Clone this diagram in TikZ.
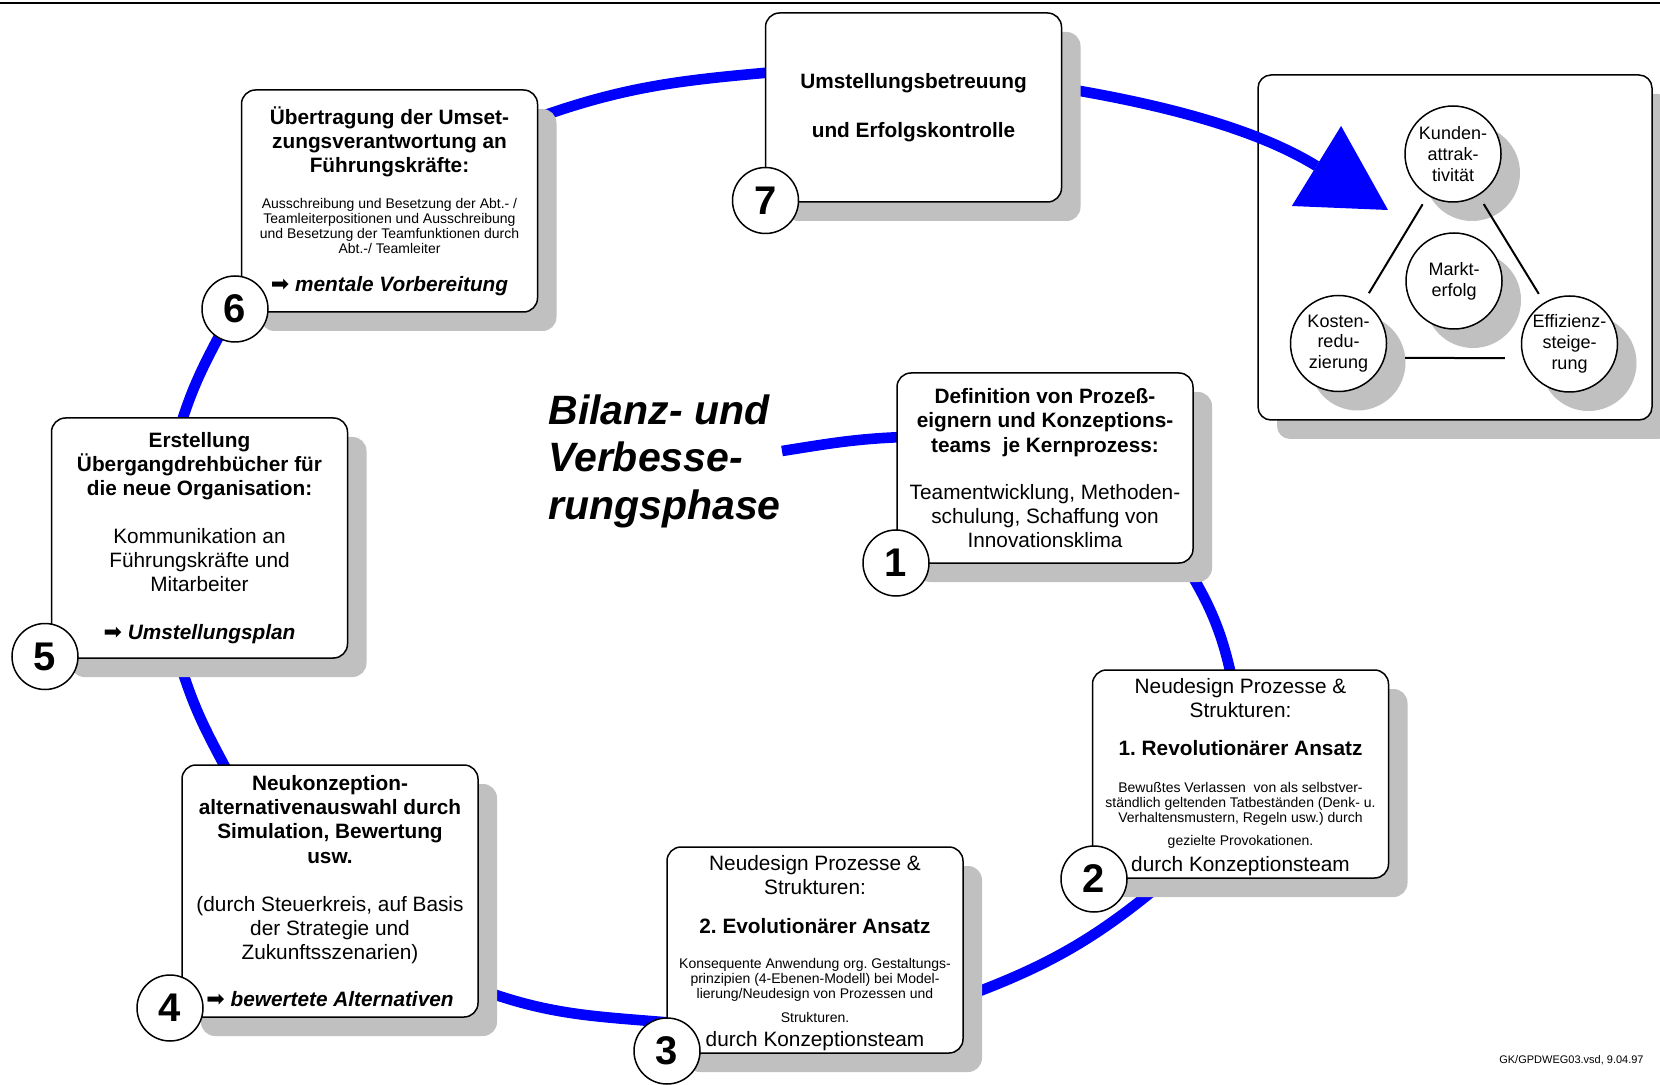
\documentclass[tikz,border=0pt]{standalone}
\usepackage{fontspec}
\setmainfont{Liberation Sans}
\newfontfamily\dejavu{DejaVu Sans}
\usetikzlibrary{calc,shadows,arrows.meta}
\definecolor{shadowgray}{RGB}{192,192,192}
\definecolor{spiralblue}{RGB}{0,0,255}
\newcommand\resetspaces{\spaceskip=0pt\xspaceskip=0pt\relax}
\newcommand\boxhead{\fontsize{10.4}{12.2}\selectfont\bfseries\resetspaces}
\newcommand\boxnorm{\fontsize{10.4}{12}\selectfont\resetspaces}
\newcommand\boxsmall{\fontsize{7}{7.5}\selectfont\resetspaces}
\newcommand\arrowsym{{\dejavu\mdseries\upshape\fontsize{11}{11}\selectfont ➡}\ }
\pgfdeclarelayer{bg}
\pgfdeclarelayer{spiral}
\pgfsetlayers{bg,spiral,main}
\setlength\parskip{0pt}
\setlength\parindent{0pt}
\frenchspacing
\tikzset{
  myshadow/.style={drop shadow={shadow xshift=9.5pt, shadow yshift=-9.5pt, fill=shadowgray, opacity=1}},
  stepbox/.style={draw, line width=0.75pt, rounded corners=7pt, fill=white, inner sep=0pt,
    text width=146pt, minimum width=148pt, myshadow},
  numcirc/.style={circle, draw, line width=0.75pt, fill=white, minimum size=33pt, inner sep=0pt,
    font=\fontsize{20}{20}\selectfont\bfseries},
  panelbox/.style={draw, line width=0.75pt, rounded corners=6.5pt, fill=white,
    minimum width=197pt, minimum height=172.5pt, myshadow},
  goalcirc/.style={circle, draw, line width=0.75pt, fill=white, minimum size=48pt, inner sep=0pt,
    align=center, font=\fontsize{9}{10.4}\selectfont, myshadow},
  spiralline/.style={draw=spiralblue, line width=5.3pt},
  tieline/.style={line width=1pt, shorten <=5pt, shorten >=5pt}
}
\begin{document}
\frenchspacing
\begin{tikzpicture}[x=0.5pt,y=0.5pt]
\useasboundingbox (0,0) rectangle (1660,-1085);

% ---------- right panel (lowest layer) ----------
\begin{pgfonlayer}{bg}
  \fill[white] (0,0) rectangle (1660,-1085);
  \node[panelbox] (panel) at (1455,-247.5) {};
  \node[goalcirc] (kun) at (1453,-154) {Kunden-\\attrak-\\tivität};
  \node[goalcirc] (mar) at (1454,-281) {Markt-\\erfolg};
  \node[goalcirc] (kos) at (1338.5,-343.5) {Kosten-\\redu-\\zierung};
  \node[goalcirc] (eff) at (1569.5,-344) {Effizienz-\\steige-\\rung};
  \draw[tieline] (kun) -- (kos);
  \draw[tieline] (kun) -- (eff);
  \draw[line width=1pt, shorten <=10pt, shorten >=9pt] (kos.-17) -- (eff.197);
\end{pgfonlayer}

% ---------- top rule ----------
\draw[line width=1pt] (0,-3.5) -- (1660,-3.5);

% ---------- step boxes ----------
\node[stepbox, minimum height=94.5pt] (b7) at (913.5,-107.5)
  {\centering{\boxhead Umstellungsbetreuung\par}\vspace{12pt}{\boxhead und Erfolgskontrolle\par}};

\node[stepbox, minimum height=111pt] (b6) at (389.5,-201)
  {\centering{\boxhead Übertragung der Umset-\\zungsverantwortung an\\Führungskräfte:\par}\vspace{10.5pt}%
   {\boxsmall Ausschreibung und Besetzung der Abt.- /\\Teamleiterpositionen und Ausschreibung\\und Besetzung der Teamfunktionen durch\\Abt.-/ Teamleiter\par}\vspace{6.5pt}%
   {\boxhead\itshape\arrowsym mentale Vorbereitung\par}};

\node[stepbox, minimum height=120pt] (b5) at (199.5,-538)
  {\centering{\boxhead Erstellung\\Übergangdrehbücher für\\die neue Organisation:\par}\vspace{11.7pt}%
   {\boxnorm Kommunikation an\\Führungskräfte und\\Mitarbeiter\par}\vspace{12pt}%
   {\boxhead\itshape\arrowsym Umstellungsplan\par}};

\node[stepbox, minimum height=126pt] (b4) at (330,-891)
  {\centering{\boxhead Neukonzeption-\\alternativenauswahl durch\\Simulation, Bewertung\\usw.\par}\vspace{12pt}%
   {\boxnorm (durch Steuerkreis, auf Basis\\der Strategie und\\Zukunftsszenarien)\par}\vspace{11.5pt}%
   {\boxhead\itshape\arrowsym bewertete Alternativen\par}};

\node[stepbox, minimum height=103pt, text height=10.6pt] (b3) at (815,-950)
  {\centering{\boxnorm Neudesign Prozesse \&\\Strukturen:\par}\vspace{7.3pt}%
   {\boxhead 2. Evolutionärer Ansatz\par}\vspace{10pt}%
   {\boxsmall Konsequente Anwendung org. Gestaltungs-\\prinzipien (4-Ebenen-Modell) bei Model-\\lierung/Neudesign von Prozessen und\par}\vspace{4.5pt}%
   {\boxsmall Strukturen.\par}\vspace{0pt}%
   {\boxnorm durch Konzeptionsteam\par}};

\node[stepbox, minimum height=104pt, text height=10.4pt] (b2) at (1240.5,-774)
  {\centering{\boxnorm Neudesign Prozesse \&\\Strukturen:\par}\vspace{7pt}%
   {\boxhead 1. Revolutionärer Ansatz\par}\vspace{11pt}%
   {\boxsmall Bewußtes Verlassen\ \ von als selbstver-\\ständlich geltenden Tatbeständen (Denk- u.\\Verhaltensmustern, Regeln usw.) durch\par}\vspace{4pt}%
   {\boxsmall gezielte Provokationen.\par}\vspace{1pt}%
   {\boxnorm durch Konzeptionsteam\par}};

\node[stepbox, minimum height=95pt] (b1) at (1045,-468)
  {\centering{\boxhead Definition von Prozeß-\\eignern und Konzeptions-\\teams\ \ je Kernprozess:\par}\vspace{11.5pt}%
   {\boxnorm Teamentwicklung, Methoden-\\schulung, Schaffung von\\Innovationsklima\par}};

% ---------- number circles ----------
\node[numcirc] (n1) at (896,-563) {1};
\node[numcirc] (n2) at (1094,-879) {2};
\node[numcirc] (n3) at (667,-1051) {3};
\node[numcirc] (n4) at (170,-1008) {4};
\node[numcirc] (n5) at (45,-656.5) {5};
\node[numcirc] (n6) at (235,-309) {6};
\node[numcirc] (n7) at (765.5,-200.5) {7};

% ---------- title and footer ----------
\node[anchor=north west, align=left, inner sep=0pt,
      font=\fontsize{20.5}{23.8}\selectfont\bfseries\itshape] (title) at (548,-394)
  {Bilanz- und\\Verbesse-\\rungsphase};
\node[anchor=east, inner sep=0pt, font=\fontsize{5.5}{6}\selectfont] (footer) at (1644,-1060)
  {GK/GPDWEG03.vsd, 9.04.97};

% ---------- blue spiral ----------
\coordinate (sp0) at (782,-451);
\coordinate (tip) at (1388,-210);
\begin{pgfonlayer}{spiral}
  \draw[spiralline] (sp0) to[out=9,in=182] ($(b1.west)+(8,31)$);
  \draw[spiralline] ($(b1.south)+(135,8)$) to[out=-58,in=102] ($(b2.north)+(-8.5,-10)$);
  \draw[spiralline] ($(b2.south)+(-75.5,-2)$) to[out=-140,in=20] ($(b3.east)+(-8,-50)$);
  \draw[spiralline] ($(b3.west)+(8,-73)$) to[out=175,in=-20] ($(b4.east)+(3,-99)$);
  \draw[spiralline] ($(b4.north)+(-101,-10)$) to[out=118,in=-72] ($(b5.south)+(-16.5,-14)$);
  \draw[spiralline] ($(b5.north)+(-19.5,-10)$) to[out=73,in=-118] ($(n6.center)+(-10,-16)$);
  \draw[spiralline] ($(b6.east)+(-7,81)$) to[out=20,in=185] ($(b7.west)+(10,35.5)$);
  \draw[spiralline, -{Triangle[length=42pt,width=47pt,line width=0pt]}]
    ($(b7.east)+(-12,21.5)$) to[out=-9,in=148.4] (tip);
\end{pgfonlayer}
\end{tikzpicture}
\end{document}
